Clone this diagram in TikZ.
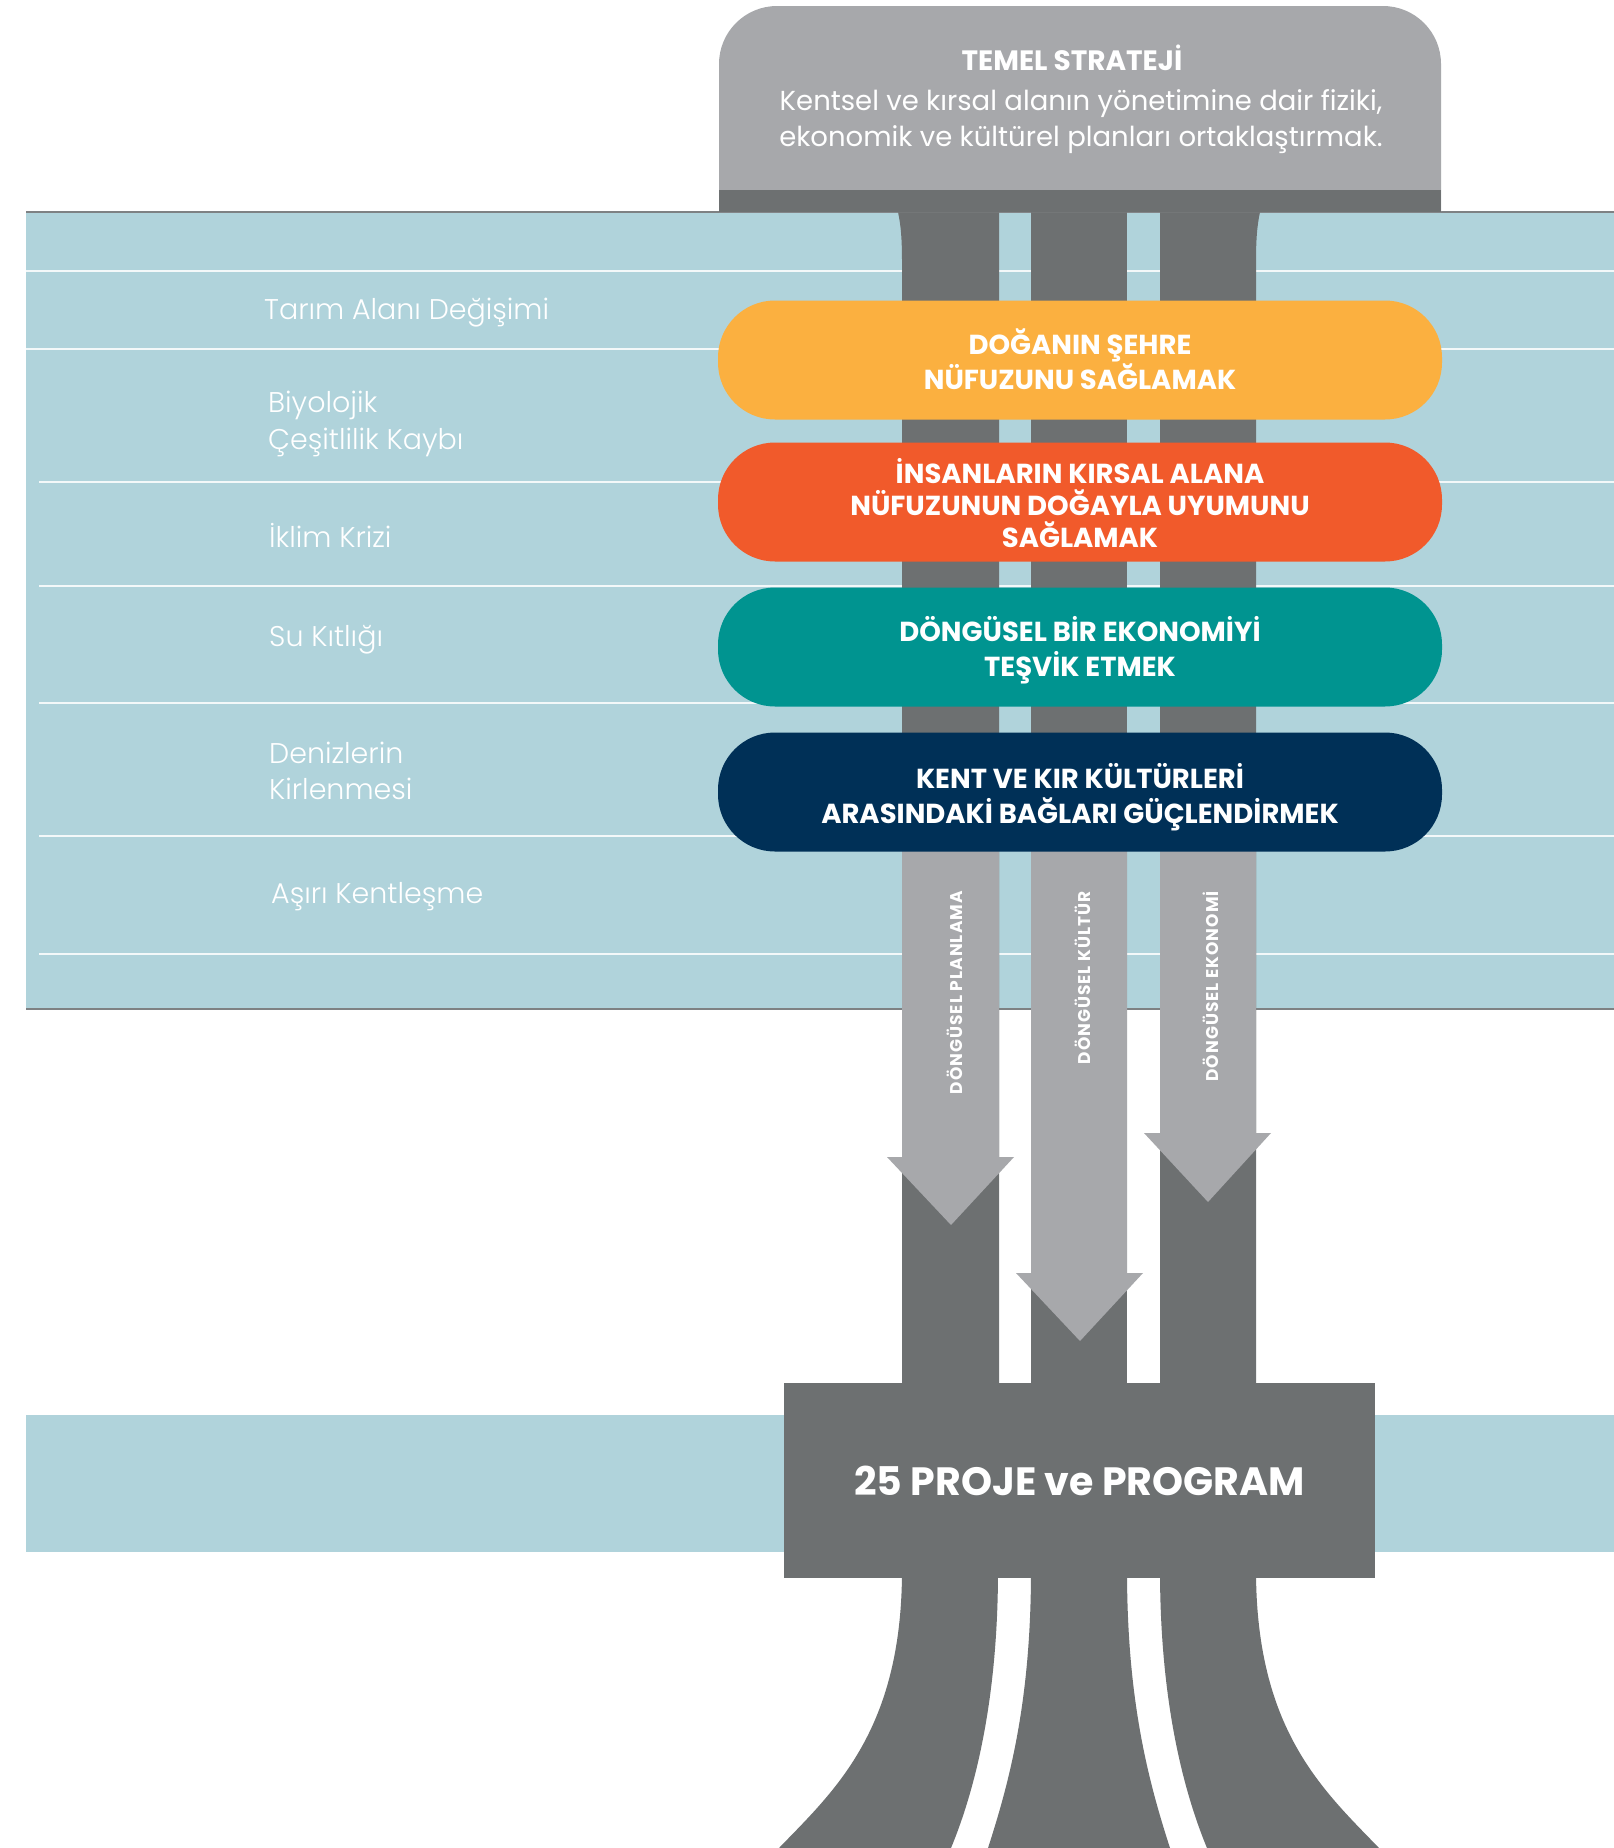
\documentclass[tikz,border=0pt]{standalone}
\usepackage{fontspec}
\setmainfont{Poppins}
\newfontfamily\labelfont{Poppins Light}
\newfontfamily\tagfont{Poppins}[LetterSpace=6]
\definecolor{band}{HTML}{B0D3DB}
\definecolor{darkg}{HTML}{6D7071}
\definecolor{lightg}{HTML}{A7A8AB}
\definecolor{edgeg}{HTML}{7E8183}
\definecolor{sun}{HTML}{FBB040}
\definecolor{flame}{HTML}{F15A2B}
\definecolor{sea}{HTML}{009490}
\definecolor{navy}{HTML}{003057}
\begin{document}
\begin{tikzpicture}[x=1pt,y=-1pt,
  pill/.style={rectangle, rounded corners=57pt, minimum width=724pt, minimum height=119pt,
    inner sep=0pt},
  goaltext/.style={text=white, align=center, inner sep=0pt,
    font=\bfseries\fontsize{27.5}{35}\selectfont},
  issue/.style={anchor=west, text=white, align=left, inner sep=0pt,
    font=\labelfont\fontsize{28.5}{36.5}\selectfont},
  flowtag/.style={rotate=90, anchor=east, text=white, inner sep=0pt,
    font=\tagfont\bfseries\fontsize{17}{20}\selectfont},
  sep/.style={white, line width=1.6pt, opacity=0.85},
  column/.style={fill=darkg},
  flow/.style={fill=lightg}]
\useasboundingbox (0,0) rectangle (1614,1848);
\fill[white] (0,0) rectangle (1614,1848);

% blue bands
\fill[band] (26,212) rectangle (1614,1009);
\fill[band] (26,1415) rectangle (1614,1552);
\draw[edgeg, line width=1.5pt] (26,212) -- (1614,212);
\draw[edgeg, line width=1.5pt] (26,1009) -- (1614,1009);

% separators between issues
\draw[sep] (26,271) -- (1614,271);
\draw[sep] (26,349) -- (1614,349);
\foreach \yy in {482,586,703,836,954}
  \draw[sep] (39,\yy) -- (1614,\yy);

% three dark columns
\fill[column] (898,212) .. controls (901,226) and (902,240) .. (902,262) -- (902,1390)
  -- (999,1390) -- (999,212) -- cycle;
\fill[column] (1031,212) rectangle (1127,1390);
\fill[column] (1160,212) -- (1160,1390) -- (1256,1390) -- (1256,262)
  .. controls (1256,240) and (1257,226) .. (1260,212) -- cycle;

% flaring legs below the project box
\fill[column] (902,1570) .. controls (902,1730) and (835,1790) .. (779,1848)
  -- (951,1848) .. controls (975,1790) and (998,1700) .. (998,1570) -- cycle;
\fill[column] (1031,1570) .. controls (1031,1700) and (1010,1780) .. (988,1848)
  -- (1170,1848) .. controls (1148,1780) and (1127,1700) .. (1127,1570) -- cycle;
\fill[column] (1256,1570) .. controls (1256,1730) and (1323,1790) .. (1379,1848)
  -- (1207,1848) .. controls (1183,1790) and (1160,1700) .. (1160,1570) -- cycle;

% light arrows along the columns
\fill[flow] (902,800) -- (999,800) -- (999,1157) -- (1014,1157) -- (951,1225)
  -- (887,1157) -- (902,1157) -- cycle;
\fill[flow] (1031,800) -- (1127,800) -- (1127,1273) -- (1143,1273) -- (1080,1341)
  -- (1016,1273) -- (1031,1273) -- cycle;
\fill[flow] (1160,800) -- (1256,800) -- (1256,1133) -- (1271,1133) -- (1208,1202)
  -- (1144,1133) -- (1160,1133) -- cycle;

\node[flowtag] (fp) at (955,891) {DÖNGÜSEL PLANLAMA};
\node[flowtag] (fk) at (1083,891) {DÖNGÜSEL KÜLTÜR};
\node[flowtag] (fe) at (1211,891) {DÖNGÜSEL EKONOMİ};

% top strategy box
\fill[lightg] (719,212) {[rounded corners=58pt] -- (719,6) -- (1441,6)} -- (1441,212) -- cycle;
\fill[darkg] (719,190) rectangle (1441,212);
\node[text=white, font=\bfseries\fontsize{28}{32}\selectfont, inner sep=0pt] (title) at (1072,58) {TEMEL STRATEJİ};
\node[text=white, align=center, inner sep=0pt, font=\fontsize{27.5}{36}\selectfont] (strategy) at (1081,122)
  {Kentsel ve kırsal alanın yönetimine dair fiziki,\\ekonomik ve kültürel planları ortaklaştırmak.};

% goals
\node[pill, fill=sun] (g1) at (1080,360) {};
\node[goaltext] (t1) at (1080,359) {DOĞANIN ŞEHRE\\NÜFUZUNU SAĞLAMAK};
\node[pill, fill=flame] (g2) at (1080,502) {};
\node[goaltext, font=\bfseries\fontsize{27.5}{32}\selectfont] (t2) at (1080,503) {İNSANLARIN KIRSAL ALANA\\NÜFUZUNUN DOĞAYLA UYUMUNU\\SAĞLAMAK};
\node[pill, fill=sea] (g3) at (1080,647) {};
\node[goaltext] (t3) at (1080,650) {DÖNGÜSEL BİR EKONOMİYİ\\TEŞVİK ETMEK};
\node[pill, fill=navy] (g4) at (1080,792) {};
\node[goaltext] (t4) at (1080,797) {KENT VE KIR KÜLTÜRLERİ\\ARASINDAKİ BAĞLARI GÜÇLENDİRMEK};

% issues
\node[issue] (i1) at (264,313) {Tarım Alanı Değişimi};
\node[issue] (i2) at (268,424) {Biyolojik\\Çeşitlilik Kaybı};
\node[issue] (i3) at (269,535) {İklim Krizi};
\node[issue] (i4) at (269,640) {Su Kıtlığı};
\node[issue] (i5) at (269,771) {Denizlerin\\Kirlenmesi};
\node[issue] (i6) at (271,897) {Aşırı Kentleşme};

% project box
\node[fill=darkg, minimum width=591pt, minimum height=195pt, inner sep=0pt,
  text=white, font=\bfseries\fontsize{39.5}{45}\selectfont] (proj) at (1079.5,1480.5) {25 PROJE ve PROGRAM};
\end{tikzpicture}
\end{document}
